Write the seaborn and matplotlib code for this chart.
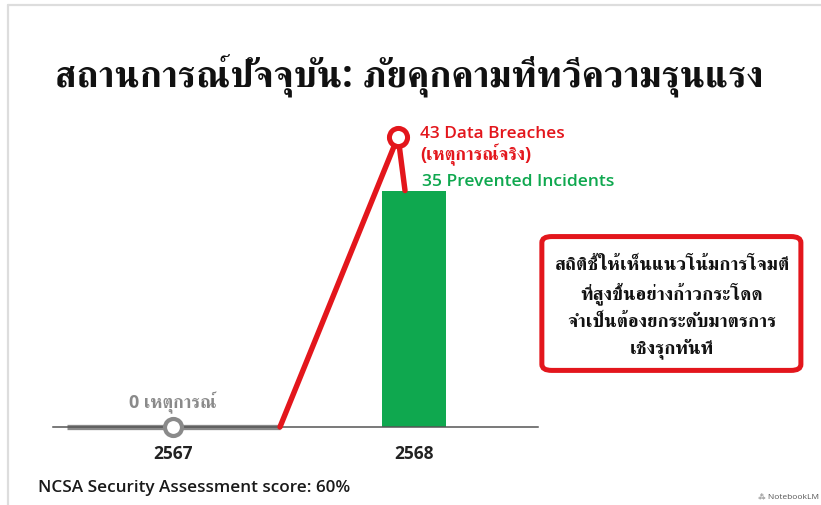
import matplotlib
matplotlib.use("Agg")
import pandas as pd
import seaborn as sns
import matplotlib.pyplot as plt
from matplotlib import font_manager as fm
from matplotlib.patches import FancyBboxPatch
from matplotlib.lines import Line2D

years = ["2567", "2568"]
prevented = [0, 35]
breaches = [0, 43]
title = "สถานการณ์ปัจจุบัน: ภัยคุกคามที่ทวีความรุนแรง"
breach_label = "43 Data Breaches"
breach_sub = "(เหตุการณ์จริง)"
prevent_label = "35 Prevented Incidents"
zero_label = "0 เหตุการณ์"
note_lines = "สถิติชี้ให้เห็นแนวโน้มการโจมตี\nที่สูงขึ้นอย่างก้าวกระโดด\nจำเป็นต้องยกระดับมาตรการ\nเชิงรุกทันที"
footer = "NCSA Security Assessment score: 60%"

RED = "#e3161c"
GREEN = "#0fa84f"
GREY = "#8a8a8a"


def latin_family():
    # first sans with a real bold face; Thai glyphs then fall through to FreeSerif
    for fam in ["Open Sans", "Noto Sans", "Roboto", "Lato", "Liberation Sans"]:
        try:
            p = fm.findfont(fm.FontProperties(family=fam, weight="bold"),
                            fallback_to_default=False)
        except Exception:
            continue
        if "bold" in p.lower():
            return fam
    return "DejaVu Sans"


sns.set_theme(style="white")
FAM = [latin_family(), "FreeSerif", "DejaVu Sans"]
plt.rcParams["font.family"] = FAM

fig = plt.figure(figsize=(8.21, 5.06), dpi=100)
ax = fig.add_axes([0.0646, 0.1542, 0.5907, 0.6087])

df = pd.DataFrame({"year": years, "prevented": prevented})
sns.barplot(data=df, x="year", y="prevented", color=GREEN, width=0.265,
            saturation=1, linewidth=0, ax=ax)

# grey flat line for 2567 (no incidents)
grey = pd.DataFrame({"x": [-0.44, 0, 0.444], "y": [breaches[0]] * 3})
sns.lineplot(data=grey, x="x", y="y", color=GREY, linewidth=3.8, ax=ax,
             sort=False, solid_capstyle="butt", clip_on=False)
sns.scatterplot(x=[0], y=[breaches[0]], s=150, color="white",
                edgecolor=GREY, linewidth=3, ax=ax, zorder=5, clip_on=False)

# red jump to 2568
red = pd.DataFrame({"x": [0.444, 0.934, 0.963],
                    "y": [breaches[0], breaches[1], prevented[1]]})
sns.lineplot(data=red, x="x", y="y", color=RED, linewidth=3.9, ax=ax,
             sort=False, zorder=4, clip_on=False)
sns.scatterplot(x=[0.934], y=[breaches[1]], s=170, color="white",
                edgecolor=RED, linewidth=3.6, ax=ax, zorder=6, clip_on=False)

ax.set_xlim(-0.498, 1.515)
ax.set_ylim(0, 45.6)
sns.despine(ax=ax, left=True, top=True, right=True)
ax.spines["bottom"].set_color("#555555")
ax.spines["bottom"].set_linewidth(1.1)
ax.set_yticks([])
ax.set_xlabel("")
ax.set_ylabel("")
ax.tick_params(axis="x", length=0, pad=12)
ax.set_xticks([0, 1])
ax.set_xticklabels(years, fontsize=12.5, fontweight="bold", color="#222222")

ax.annotate(breach_label, (1.025, breaches[1]), xytext=(0, 2.5),
            textcoords="offset points", color=RED, fontsize=12.4,
            fontweight="semibold", va="center", ha="left")
ax.annotate(breach_sub, (1.025, breaches[1]), xytext=(0, -12.5),
            textcoords="offset points", color=RED, fontsize=13,
            fontweight="bold", va="center", ha="left")
ax.annotate(prevent_label, (1.033, prevented[1]), xytext=(0, 7),
            textcoords="offset points", color=GREEN, fontsize=12.6,
            fontweight="semibold", va="center", ha="left")
ax.annotate(zero_label, (0, breaches[0]), xytext=(0, 18),
            textcoords="offset points", color=GREY, fontsize=13,
            fontweight="bold", va="center", ha="center")

fig.text(0.067, 0.852, title, fontsize=27, fontweight="bold",
         color="#111111", va="center", ha="left")
fig.text(0.046, 0.035, footer, fontsize=12.3, fontweight="semibold",
         color="#1a1a1a", va="center", ha="left")
fig.text(0.997, 0.018, "\u2042 NotebookLM", fontsize=6, color="#555555",
         va="center", ha="right")

box = FancyBboxPatch((0.660, 0.266), 0.3155, 0.2645,
                     boxstyle="round,pad=0,rounding_size=0.012",
                     transform=fig.transFigure, facecolor="white",
                     edgecolor=RED, linewidth=3.6)
fig.patches.append(box)
fig.text(0.8185, 0.393, note_lines, fontsize=13.6, fontweight="bold",
         color="#111111", ha="center", va="center", linespacing=1.42)

# light screenshot frame
fig.add_artist(Line2D([0.0097, 1.0], [0.988, 0.988], color="#dddddd",
                      linewidth=1.6, transform=fig.transFigure))
fig.add_artist(Line2D([0.0097, 0.0097], [0.0, 0.988], color="#dddddd",
                      linewidth=1.6, transform=fig.transFigure))

fig.savefig("out.png", dpi=100, facecolor="white")
